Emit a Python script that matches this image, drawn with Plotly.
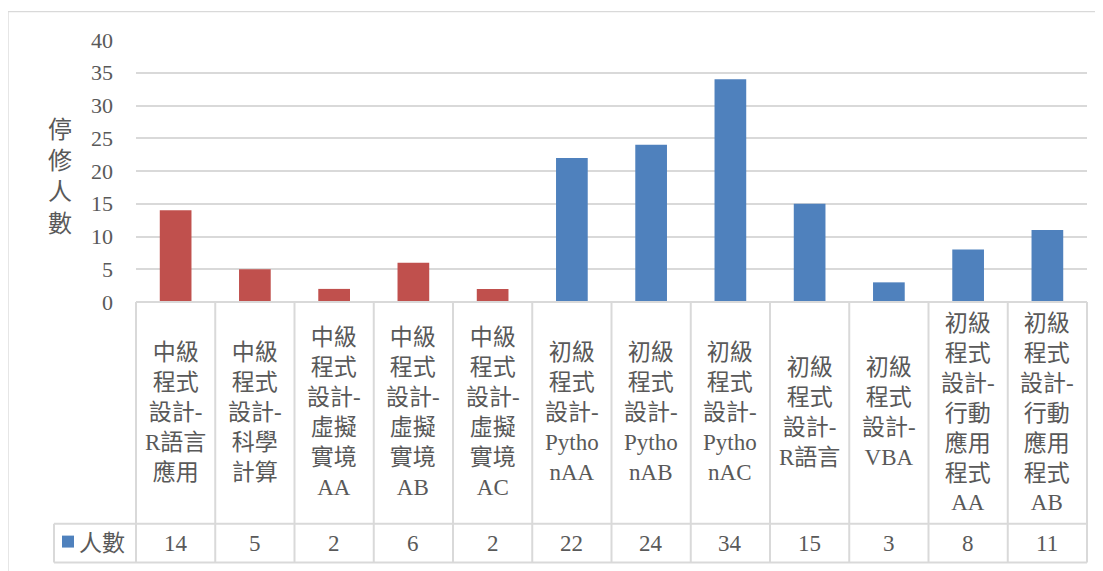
import plotly.graph_objects as go

# ---- data ----
categories = [
    "中級<br>程式<br>設計-<br>R語言<br>應用",
    "中級<br>程式<br>設計-<br>科學<br>計算",
    "中級<br>程式<br>設計-<br>虛擬<br>實境<br>AA",
    "中級<br>程式<br>設計-<br>虛擬<br>實境<br>AB",
    "中級<br>程式<br>設計-<br>虛擬<br>實境<br>AC",
    "初級<br>程式<br>設計-<br>Pytho<br>nAA",
    "初級<br>程式<br>設計-<br>Pytho<br>nAB",
    "初級<br>程式<br>設計-<br>Pytho<br>nAC",
    "初級<br>程式<br>設計-<br>R語言",
    "初級<br>程式<br>設計-<br>VBA",
    "初級<br>程式<br>設計-<br>行動<br>應用<br>程式<br>AA",
    "初級<br>程式<br>設計-<br>行動<br>應用<br>程式<br>AB",
]
values = [14, 5, 2, 6, 2, 22, 24, 34, 15, 3, 8, 11]
bar_colors = ["#C0504D"] * 5 + ["#4F81BD"] * 7
series_name = "人數"
y_title = "停<br>修<br>人<br>數"
y_ticks = [0, 5, 10, 15, 20, 25, 30, 35, 40]

# ---- layout geometry (page pixels; page body has an 8px offset) ----
OFF = 8
W, H = 1103, 571
PLOT_L, PLOT_R, PLOT_T, PLOT_B = 136, 1087, 39.5, 302.5
ML = PLOT_L - OFF
MR = W - (PLOT_R - OFF)
MT = PLOT_T - OFF
MB = H - (PLOT_B - OFF)
PW = PLOT_R - PLOT_L
PH = PLOT_B - PLOT_T
n = len(values)

def px(x):
    return (x - PLOT_L) / PW

def py(y):
    return (PLOT_B - y) / PH

FONT = "Liberation Serif, Noto Sans CJK TC, serif"
TXT = "#595959"
GRID = "#D9D9D9"

fig = go.Figure()
fig.add_trace(go.Bar(
    x=list(range(n)), y=values, width=0.4,
    marker=dict(color=bar_colors, line=dict(width=0)),
    name=series_name, showlegend=False,
))

shapes = []
# chart area border
shapes.append(dict(type="rect", xref="paper", yref="paper",
                   x0=px(8), x1=px(1101), y0=py(600), y1=py(11),
                   line=dict(color=GRID, width=1.3), layer="below"))
# table lines
top, mid, bot = 302.5, 525, 564
shapes.append(dict(type="line", xref="paper", yref="paper", x0=0, x1=1,
                   y0=py(top), y1=py(top), line=dict(color=GRID, width=2)))
for yy in (mid, bot):
    shapes.append(dict(type="line", xref="paper", yref="paper", x0=px(54), x1=1,
                       y0=py(yy), y1=py(yy), line=dict(color=GRID, width=2)))
shapes.append(dict(type="line", xref="paper", yref="paper", x0=px(54), x1=px(54),
                   y0=py(mid), y1=py(bot), line=dict(color=GRID, width=2)))
for i in range(n + 1):
    xx = i / n
    shapes.append(dict(type="line", xref="paper", yref="paper", x0=xx, x1=xx,
                       y0=py(top), y1=py(bot), line=dict(color=GRID, width=2)))
# legend key
shapes.append(dict(type="rect", xref="paper", yref="paper",
                   x0=px(62), x1=px(74), y0=py(549), y1=py(537),
                   fillcolor="#4F81BD", line=dict(width=0)))

annotations = []
for i, (lab, v) in enumerate(zip(categories, values)):
    annotations.append(dict(x=(i + 0.5) / n, y=py((top + mid) / 2), xref="paper", yref="paper",
                            text=lab, showarrow=False, xanchor="center", yanchor="middle",
                            font=dict(family=FONT, size=23, color=TXT)))
    annotations.append(dict(x=(i + 0.5) / n, y=py((mid + bot) / 2), xref="paper", yref="paper",
                            text=str(v), showarrow=False, xanchor="center", yanchor="middle",
                            font=dict(family=FONT, size=23, color=TXT)))
annotations.append(dict(x=px(77), y=py((mid + bot) / 2), xref="paper", yref="paper",
                        text=series_name, showarrow=False, xanchor="left", yanchor="middle",
                        font=dict(family=FONT, size=23, color=TXT)))
annotations.append(dict(x=px(60), y=py(177), xref="paper", yref="paper",
                        text=y_title, showarrow=False, xanchor="center", yanchor="middle",
                        font=dict(family=FONT, size=24, color=TXT)))

fig.update_layout(
    width=W, height=H,
    margin=dict(l=ML, r=MR, t=MT, b=MB, pad=0),
    paper_bgcolor="white", plot_bgcolor="white",
    showlegend=False,
    xaxis=dict(range=[-0.5, n - 0.5], showticklabels=False, showgrid=False,
               zeroline=False, showline=False, ticks=""),
    yaxis=dict(range=[0, 40], tickvals=y_ticks, showgrid=True, gridcolor=GRID, gridwidth=2,
               zeroline=False, showline=False, ticks="", ticklabelstandoff=22,
               tickfont=dict(family=FONT, size=22, color=TXT)),
    shapes=shapes, annotations=annotations,
    bargap=0.6,
)

fig.write_html("out.html")
